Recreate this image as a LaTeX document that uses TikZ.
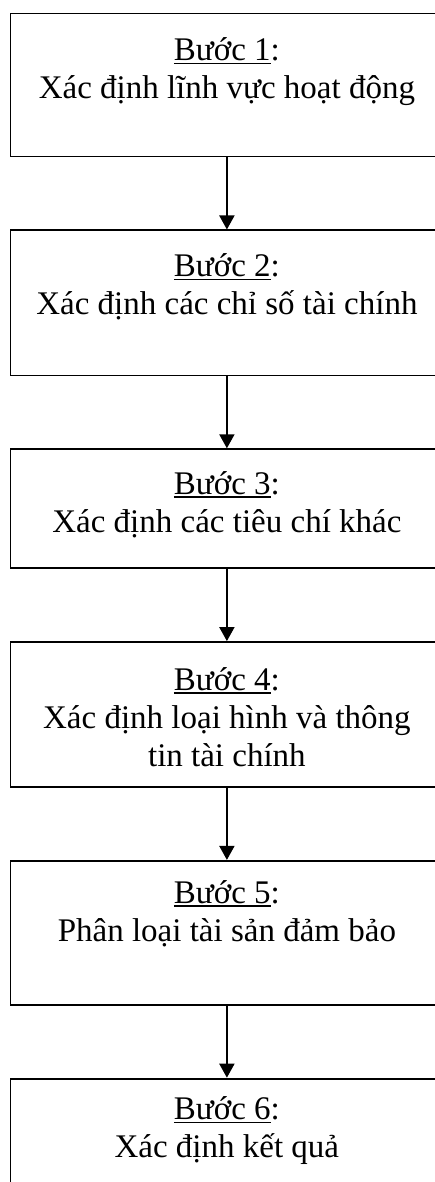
\documentclass[tikz,border=0pt]{standalone}
\usepackage{fontspec}
\setmainfont{Liberation Serif}
\usetikzlibrary{arrows.meta}
\usetikzlibrary{positioning}

\newcommand{\ulstep}[1]{\setbox0\hbox{#1}\rlap{\rule[-3.5pt]{\wd0}{1.6pt}}\box0}

\begin{document}
\begin{tikzpicture}
    [x=1pt, y=1pt, >={Triangle[length=14pt,width=15pt]},
    stepbox/.style={draw, rectangle, line width=1.8pt, minimum width=433pt, inner sep=0pt},
    desc/.style={font=\fontsize{33}{38}\selectfont, align=center, inner sep=0pt},
    flow/.style={->, line width=1.8pt}]

  \useasboundingbox (0,0) rectangle (435,-1182);

  \node[stepbox, minimum height=143pt, anchor=north west] (s1) at (9.5,-12.7) {};
  \node[stepbox, minimum height=145pt, below=72pt of s1] (s2) {};
  \node[stepbox, minimum height=119pt, below=72pt of s2] (s3) {};
  \node[stepbox, minimum height=145pt, below=72pt of s3] (s4) {};
  \node[stepbox, minimum height=144pt, below=72pt of s4] (s5) {};
  \node[stepbox, minimum height=144pt, below=72pt of s5] (s6) {};

  \node[desc, below=25pt of s1.north] (t1) {\ulstep{Bước 1}:\\Xác định lĩnh vực hoạt động};
  \node[desc, below=24pt of s2.north] (t2) {\ulstep{Bước 2}:\\Xác định các chỉ số tài chính};
  \node[desc, below=23pt of s3.north] (t3) {\ulstep{Bước 3}:\\Xác định các tiêu chí khác};
  \node[desc, below=26pt of s4.north] (t4) {\ulstep{Bước 4}:\\Xác định loại hình và thông\\tin tài chính};
  \node[desc, below=20pt of s5.north] (t5) {\ulstep{Bước 5}:\\Phân loại tài sản đảm bảo};
  \node[desc, below=19pt of s6.north] (t6) {\ulstep{Bước 6}:\\Xác định kết quả};

  \draw[flow] (s1) -- (s2);
  \draw[flow] (s2) -- (s3);
  \draw[flow] (s3) -- (s4);
  \draw[flow] (s4) -- (s5);
  \draw[flow] (s5) -- (s6);

\end{tikzpicture}
\end{document}
